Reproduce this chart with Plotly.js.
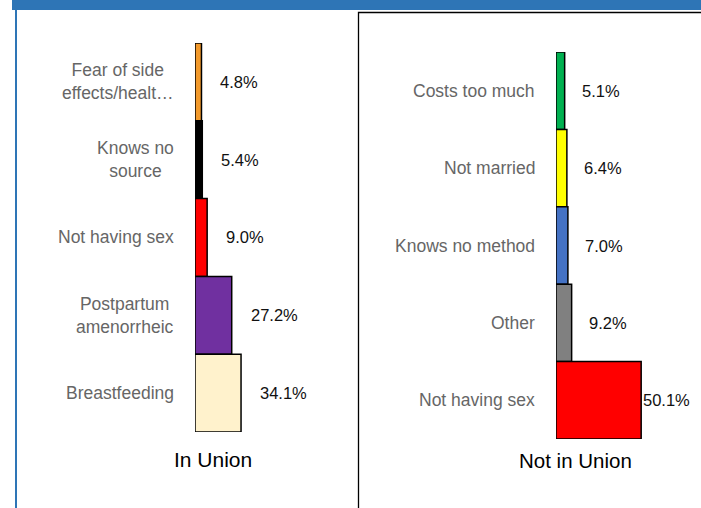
<!DOCTYPE html>
<html>
<head>
<meta charset="utf-8">
<script src="https://cdn.plot.ly/plotly-3.0.1.min.js"></script>
<style>html,body{margin:0;padding:0;background:#fff;}#chart{width:701px;height:508px;}</style>
</head>
<body>
<div id="chart"></div>
<script>
// Data (top-to-bottom display order)
const inUnionCategories = ["Fear of side<br>effects/healt…", "Knows no<br>source", "Not having sex", "Postpartum<br>amenorrheic", "Breastfeeding"];
const inUnionValues = [4.8, 5.4, 9.0, 27.2, 34.1];
const inUnionLabels = ["4.8%", "5.4%", "9.0%", "27.2%", "34.1%"];
const notInUnionCategories = ["Costs too much", "Not married", "Knows no method", "Other", "Not having sex"];
const notInUnionValues = [5.1, 6.4, 7.0, 9.2, 50.1];
const notInUnionLabels = ["5.1%", "6.4%", "7.0%", "9.2%", "50.1%"];
const panelTitles = ["In Union", "Not in Union"];

const inUnionColors = ["#F39A2C", "#000000", "#FF0000", "#7030A0", "#FFF2CC"];
const notInUnionColors = ["#00B050", "#FFFF00", "#4472C4", "#808080", "#FF0000"];

const W = 701, H = 508;
const FONT = "'Liberation Sans', Arial, sans-serif";

const traces = [
  {type: 'bar', orientation: 'h', x: inUnionValues, y: inUnionCategories, xaxis: 'x', yaxis: 'y',
   marker: {color: inUnionColors, line: {color: '#000', width: 1.5}}, hoverinfo: 'none', showlegend: false},
  {type: 'bar', orientation: 'h', x: notInUnionValues, y: notInUnionCategories, xaxis: 'x2', yaxis: 'y2',
   marker: {color: notInUnionColors, line: {color: '#000', width: 1.5}}, hoverinfo: 'none', showlegend: false}
];

const catFont = {family: FONT, size: 17.5, color: '#666666'};
const valFont = {family: FONT, size: 16.5, color: '#111'};
const annotations = [];
inUnionCategories.forEach((c, i) => annotations.push({
  x: 0, y: c, xref: 'x', yref: 'y', text: c, showarrow: false, align: 'center',
  xanchor: 'right', xshift: -19, font: catFont
}));
notInUnionCategories.forEach((c, i) => annotations.push({
  x: 0, y: c, xref: 'x2', yref: 'y2', text: c, showarrow: false, align: 'right',
  xanchor: 'right', xshift: -19, font: catFont
}));
inUnionValues.forEach((v, i) => annotations.push({
  x: v, y: inUnionCategories[i], xref: 'x', yref: 'y', text: inUnionLabels[i], showarrow: false,
  xanchor: 'left', xshift: 17, font: valFont
}));
const maxNIU = Math.max(...notInUnionValues);
notInUnionValues.forEach((v, i) => annotations.push({
  x: v, y: notInUnionCategories[i], xref: 'x2', yref: 'y2', text: notInUnionLabels[i], showarrow: false,
  xanchor: 'left', xshift: v === maxNIU ? 0 : 15, font: valFont
}));
annotations.push({x: 213 / W, y: 1 - 459 / H, xref: 'paper', yref: 'paper', text: panelTitles[0], showarrow: false,
  xanchor: 'center', yanchor: 'middle', font: {family: FONT, size: 21, color: '#000'}});
annotations.push({x: 575 / W, y: 1 - 460 / H, xref: 'paper', yref: 'paper', text: panelTitles[1], showarrow: false,
  xanchor: 'center', yanchor: 'middle', font: {family: FONT, size: 20.5, color: '#000'}});

const hiddenX = {showgrid: false, zeroline: false, showline: false, showticklabels: false, ticks: '', fixedrange: true};
const hiddenY = {autorange: 'reversed', type: 'category', showgrid: false, zeroline: false,
  showline: false, ticks: '', showticklabels: false};
const layout = {
  width: W, height: H,
  margin: {l: 0, r: 0, t: 0, b: 0},
  paper_bgcolor: '#fff', plot_bgcolor: 'rgba(0,0,0,0)',
  bargap: 0,
  showlegend: false,
  xaxis: Object.assign({domain: [195 / W, 350 / W], range: [0, 155 / 1.35]}, hiddenX),
  xaxis2: Object.assign({domain: [556 / W, 1], range: [0, 145 / 1.7]}, hiddenX),
  yaxis: Object.assign({domain: [1 - 432 / H, 1 - 43 / H], anchor: 'x'}, hiddenY),
  yaxis2: Object.assign({domain: [1 - 439 / H, 1 - 52 / H], anchor: 'x2'}, hiddenY),
  annotations: annotations,
  shapes: [
    {type: 'rect', xref: 'paper', yref: 'paper', x0: 12 / W, x1: 1.01, y0: 1 - 10 / H, y1: 1.01,
     fillcolor: '#2E75B6', line: {width: 0}, layer: 'above'},
    {type: 'line', xref: 'paper', yref: 'paper', x0: 16 / W, x1: 16 / W, y0: -0.01, y1: 1,
     line: {color: '#2E75B6', width: 2}},
    {type: 'rect', xref: 'paper', yref: 'paper', x0: 358.5 / W, x1: 1.02, y0: -0.02, y1: 1 - 12.5 / H,
     line: {color: '#000', width: 1.3}, fillcolor: 'rgba(0,0,0,0)'}
  ]
};

Plotly.newPlot('chart', traces, layout, {staticPlot: true, displayModeBar: false});
</script>
</body>
</html>
